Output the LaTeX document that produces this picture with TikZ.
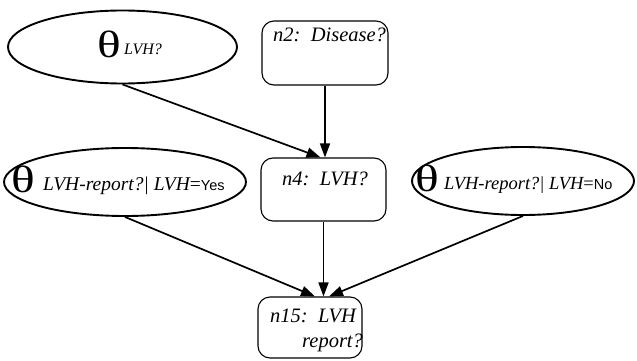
\documentclass[tikz,border=0pt]{standalone}
\usepackage{fontspec}
\usepackage{graphicx}
\setmainfont{Liberation Serif}
\newfontfamily\valuefont{Liberation Sans}
\usetikzlibrary{shapes.geometric,arrows.meta}

% a parameter symbol: a wide theta
\newcommand{\paramtheta}{\scalebox{1.3}[1]{θ}}
% the value of the conditioning variable, set upright in a sans face
\newcommand{\condvalue}[1]{\upshape{=}{\valuefont\fontsize{14.5}{16}\selectfont #1}}

\begin{document}
\begin{tikzpicture}[x=1pt,y=-1pt,
  param/.style={draw, ellipse, line width=1.9pt, inner sep=0pt},
  varbox/.style={draw, rounded corners=12pt, line width=1.1pt, inner sep=0pt},
  link/.style={line width=1.7pt, -{Triangle[length=14pt,width=10pt]}},
  boxtext/.style={font=\fontsize{20.5}{22}\selectfont\itshape, anchor=base west, inner sep=0pt},
  thetatext/.style={font=\fontsize{38}{40}\selectfont, anchor=base west, inner sep=0pt},
  subtext/.style={font=\fontsize{18.5}{20}\selectfont\itshape, anchor=base west, inner sep=0pt},
  smallsub/.style={font=\fontsize{16}{18}\selectfont\itshape, anchor=base west, inner sep=0pt},
]
\useasboundingbox (0,0) rectangle (637,361);

% parameter ellipses
\node[param, minimum width=229, minimum height=73] (pLVH) at (122.5,47) {};
\node[param, minimum width=242, minimum height=68] (pYes) at (125,182) {};
\node[param, minimum width=222, minimum height=68] (pNo) at (523,181) {};

% variable boxes
\node[varbox, minimum width=126, minimum height=64] (n2) at (325,53) {};
\node[varbox, minimum width=125, minimum height=63] (n4) at (323.5,189.5) {};
\node[varbox, minimum width=104, minimum height=61] (n15) at (310,327.5) {};

% labels of the parameters
\node[thetatext] (tLVH) at (97,58) {\paramtheta};
\node[smallsub] (sLVH) at (124,55) {LVH?};
\node[thetatext] (tYes) at (11,192) {\paramtheta};
\node[subtext, font=\fontsize{19.5}{21}\selectfont\itshape] (sYes) at (43,190) {LVH-report?| LVH\condvalue{Yes}};
\node[thetatext] (tNo) at (415,191) {\paramtheta};
\node[subtext] (sNo) at (444,189) {LVH-report?| LVH\condvalue{No}};

% labels of the variables
\node[boxtext] (ln2) at (273,42) {n2:\, Disease?};
\node[boxtext] (ln4) at (282,185) {n4:\, LVH?};
\node[boxtext] (ln15a) at (270,322) {n15:\, LVH};
\node[boxtext] (ln15b) at (302,347) {report?};

% dependencies
\draw[link] (pLVH.south) -- ([xshift=-3pt]n4.north);
\draw[link] (n2.south) -- (n2.south |- n4.north);
\draw[link] (pYes.south) -- ([xshift=5pt]n15.north);
\draw[link] (n4.south) -- (n4.south |- n15.north);
\draw[link] (pNo.south) -- ([xshift=19pt]n15.north);
\end{tikzpicture}
\end{document}
